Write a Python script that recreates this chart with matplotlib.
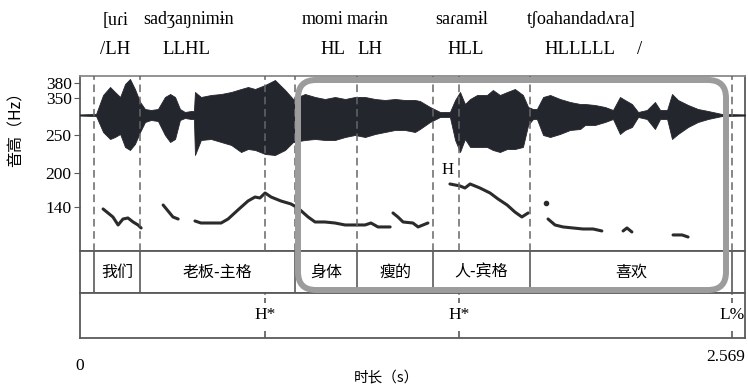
import numpy as np
import matplotlib
matplotlib.use('Agg')
import matplotlib.pyplot as plt
import matplotlib.transforms as mtransforms
from matplotlib.patches import FancyBboxPatch

plt.rcParams['font.family'] = ['Liberation Serif', 'DejaVu Serif']
CJK = ['Noto Sans CJK SC', 'DejaVu Sans']

duration = 2.569

# ---- annotation tiers ----
word_bounds = [0.054, 0.232, 0.831, 1.070, 1.364, 1.738, 2.519]
word_labels = ['', '我们', '老板-主格', '身体', '瘦的', '人-宾格', '喜欢', '']
tone_times = [0.715, 1.464, 2.519]
tone_labels = ['H*', 'H*', 'L%']
pitch_marks = [0.054, 0.232, 0.715, 0.831, 1.070, 1.364, 1.464, 1.738, 2.519]

# ---- transcription rows above the plot ----
ipa_labels = ['[uɾi', 'sadʒaŋnimɨn', 'momi', 'maɾɨn', 'saɾamɨl', 'tʃoahandadʌra]']
ipa_times = [0.089, 0.243, 0.858, 1.031, 1.371, 1.727]
tone_rows = ['/LH', 'LLHL', 'HL', 'LH', 'HLL', 'HLLLLL', '/']
tone_row_times = [0.077, 0.317, 0.927, 1.070, 1.421, 1.796, 2.152]

# ---- pitch track (s, Hz) ----
seg1_t = [0.089, 0.108, 0.127, 0.147, 0.166, 0.185, 0.205, 0.224, 0.236]
seg1_hz = [136.5, 129.4, 122.3, 108.1, 118.7, 120.5, 113.4, 108.1, 102.8]
seg2_t = [0.321, 0.340, 0.359, 0.379]
seg2_hz = [143.5, 132.9, 122.3, 118.7]
seg3_t = [0.444, 0.467, 0.506, 0.545, 0.572, 0.610, 0.649, 0.676, 0.695, 0.715, 0.738, 0.776,
          0.815, 0.842, 0.881, 0.908, 0.946, 0.985, 1.024, 1.062, 1.101, 1.124, 1.151, 1.198]
seg3_hz = [115.2, 111.6, 111.6, 111.6, 118.7, 134.7, 150.6, 157.6, 155.9, 164.7, 157.6, 150.6,
           145.3, 138.2, 122.3, 113.4, 113.4, 111.6, 108.1, 108.1, 108.1, 111.6, 104.6, 104.6]
seg4_t = [1.209, 1.228, 1.248, 1.286, 1.306, 1.344]
seg4_hz = [129.4, 122.3, 113.4, 111.6, 104.6, 111.6]
seg5_t = [1.429, 1.468, 1.487, 1.507, 1.545, 1.584, 1.615, 1.650, 1.680, 1.707, 1.731]
seg5_hz = [180.6, 177.1, 173.5, 180.6, 173.5, 164.7, 154.1, 143.5, 131.1, 122.3, 129.4]
dot_t = [1.800]
dot_hz = [147.1]
seg6_t = [1.808, 1.835, 1.866, 1.904, 1.943, 1.982, 2.016]
seg6_hz = [118.7, 108.1, 104.6, 102.8, 101.0, 101.0, 97.5]
seg7_t = [2.098, 2.113, 2.132]
seg7_hz = [97.5, 102.8, 95.7]
seg8_t = [2.291, 2.326, 2.349]
seg8_hz = [90.4, 90.4, 86.8]
segments = [(seg1_t, seg1_hz), (seg2_t, seg2_hz), (seg3_t, seg3_hz), (seg4_t, seg4_hz),
            (seg5_t, seg5_hz), (seg6_t, seg6_hz), (seg7_t, seg7_hz), (seg8_t, seg8_hz)]

# ---- waveform envelope (s, a.u.) ----
wave_t = [0.000, 0.062, 0.089, 0.116, 0.135, 0.155, 0.174, 0.193, 0.212, 0.232, 0.251, 0.274,
          0.301, 0.328, 0.348, 0.367, 0.386, 0.405, 0.429, 0.440, 0.444, 0.467, 0.506, 0.545,
          0.584, 0.622, 0.649, 0.676, 0.715, 0.753, 0.792, 0.823, 0.869, 0.908, 0.946, 0.985,
          1.024, 1.062, 1.101, 1.140, 1.178, 1.217, 1.255, 1.294, 1.313, 1.352, 1.391, 1.429,
          1.449, 1.468, 1.487, 1.507, 1.534, 1.572, 1.595, 1.622, 1.650, 1.680, 1.711, 1.731,
          1.750, 1.765, 1.789, 1.816, 1.854, 1.893, 1.932, 1.951, 1.989, 2.028, 2.059, 2.086,
          2.105, 2.132, 2.156, 2.190, 2.221, 2.241, 2.268, 2.287, 2.310, 2.349, 2.387, 2.426,
          2.480, 2.569]
wave_up = [0.5, 1, 20, 28, 23, 18, 31, 36, 26, 13, 6, 5,
           6, 18, 21, 18, 6, 3, 4, 4, 23, 18, 20, 21,
           23, 26, 28, 26, 30, 35, 25, 16, 21, 18, 16, 18,
           16, 18, 18, 16, 15, 16, 15, 15, 14, 8, 3, 3,
           15, 23, 11, 16, 20, 20, 25, 20, 23, 26, 20, 8,
           6, 6, 18, 20, 16, 13, 11, 11, 10, 8, 5, 18,
           15, 11, 3, 5, 13, 5, 5, 21, 15, 10, 6, 4,
           1, 0.5]
wave_lo = [-0.5, -1, -17, -24, -22, -19, -32, -35, -29, -17, -7, -5,
           -6, -20, -27, -24, -5, -3, -4, -4, -40, -25, -24, -27,
           -30, -37, -34, -35, -39, -40, -35, -27, -25, -24, -25, -25,
           -22, -20, -22, -19, -17, -15, -15, -17, -14, -7, -2, -2,
           -25, -37, -24, -32, -32, -32, -35, -37, -34, -34, -32, -10,
           -4, -4, -20, -22, -19, -15, -14, -10, -10, -7, -4, -19,
           -15, -12, -2, -4, -14, -4, -4, -24, -19, -12, -7, -4,
           -1, -0.5]

# pitch axis scale (labelled Hz positions as drawn in the figure)
hz_anchor = [62, 140, 200, 250, 350, 380, 394]
pos_anchor = [0, 44, 78, 116, 153, 168, 175]
hz_ticks = [140, 200, 250, 350, 380]


def fwd(v):
    return np.interp(v, hz_anchor, pos_anchor)


def inv(v):
    return np.interp(v, pos_anchor, hz_anchor)


frame_col = '#5a5a5a'
fig = plt.figure(figsize=(7.48, 3.85), dpi=100)
ax_p = fig.add_axes([0.1070, 0.3481, 0.8890, 0.4545])
ax_w = fig.add_axes([0.1070, 0.2390, 0.8890, 0.1091])
ax_t = fig.add_axes([0.1070, 0.1221, 0.8890, 0.1169])

for ax in (ax_p, ax_w, ax_t):
    ax.set_xlim(0, duration)
    ax.set_xticks([])
    for s in ax.spines.values():
        s.set_color(frame_col)
        s.set_linewidth(1.3)
ax_p.spines['top'].set_color('#8a8a8a')

#------------------------[pitch panel]------------------------#
ax_p.set_yscale('function', functions=(fwd, inv))
ax_p.set_ylim(62, 394)
ax_p.set_yticks(hz_ticks)
ax_p.set_yticklabels([str(v) for v in hz_ticks])
ax_p.yaxis.set_minor_locator(matplotlib.ticker.NullLocator())
ax_p.tick_params(axis='y', direction='out', length=4, color=frame_col, labelsize=12.5, pad=2)
ax_p.set_ylabel('音高（Hz）', family=CJK, fontsize=11.5)
ax_p.yaxis.set_label_coords(-0.084, 0.72)

for t, hz in segments:
    ax_p.plot(t, hz, color='#2b2b2b', lw=2.2, solid_capstyle='round', zorder=3)
ax_p.plot(dot_t, dot_hz, 'o', color='#2b2b2b', ms=3, zorder=3)
ax_p.text(1.421, 204, 'H', fontsize=12, ha='center', va='center')

ax_wave = ax_p.twinx()
ax_wave.set_ylim(-136, 39)
ax_wave.set_yticks([])
for s in ax_wave.spines.values():
    s.set_visible(False)
ax_wave.fill_between(wave_t, wave_lo, wave_up, color='#24262e', lw=0.6, ec='#24262e', zorder=2)
ax_wave.axhline(0, color='#24262e', lw=1, zorder=2)
for m in pitch_marks:
    ax_wave.axvline(m, color='#666666', lw=1.1, ls=(0, (5, 3)), zorder=4)

#------------------------[word tier]------------------------#
ax_w.set_yticks([])
ax_w.set_ylim(0, 1)
for b in word_bounds:
    ax_w.axvline(b, color=frame_col, lw=1.2)
edges = [0] + word_bounds + [duration]
for i, lab in enumerate(word_labels):
    ax_w.text((edges[i] + edges[i + 1]) / 2, 0.5, lab, family=CJK, fontsize=11.5,
              ha='center', va='center')

#------------------------[tone tier]------------------------#
ax_t.set_yticks([])
ax_t.set_ylim(0, 1)
for t, lab in zip(tone_times, tone_labels):
    ax_t.vlines(t, 0.78, 1, color=frame_col, lw=1.2, ls=(0, (3, 2)))
    ax_t.vlines(t, 0, 0.15, color=frame_col, lw=1.2)
    ax_t.text(t, 0.5, lab, fontsize=12.5, ha='center', va='center')

trans = mtransforms.blended_transform_factory(ax_t.transData, ax_t.transAxes)
ax_t.text(0, -0.62, '0', fontsize=12.5, ha='center', va='center', transform=trans)
ax_t.text(duration, -0.42, '2.569', fontsize=12.5, ha='right', va='center', transform=trans)
ax_t.text(0.46, -0.89, '时长（s）', family=CJK, fontsize=10.5, ha='center', va='center',
          transform=ax_t.transAxes)

#------------------------[transcription rows]------------------------#
top = mtransforms.blended_transform_factory(ax_p.transData, fig.transFigure)
for t, lab in zip(ipa_times, ipa_labels):
    ax_p.text(t, 1 - 20 / 385, lab, fontsize=13, ha='left', va='center', transform=top,
              clip_on=False)
for t, lab in zip(tone_row_times, tone_rows):
    ax_p.text(t, 1 - 50 / 385, lab, fontsize=13.5, ha='left', va='center', transform=top,
              clip_on=False)

# highlighted region
box = FancyBboxPatch((298 / 748, 1 - 290 / 385), 428 / 748, 210 / 385,
                     boxstyle='round,pad=0,rounding_size=0.024', mutation_aspect=748 / 385,
                     transform=fig.transFigure, fill=False, ec='#9c9c9c', lw=4.3, zorder=10)
fig.patches.append(box)

fig.savefig('out.png', dpi=100)
